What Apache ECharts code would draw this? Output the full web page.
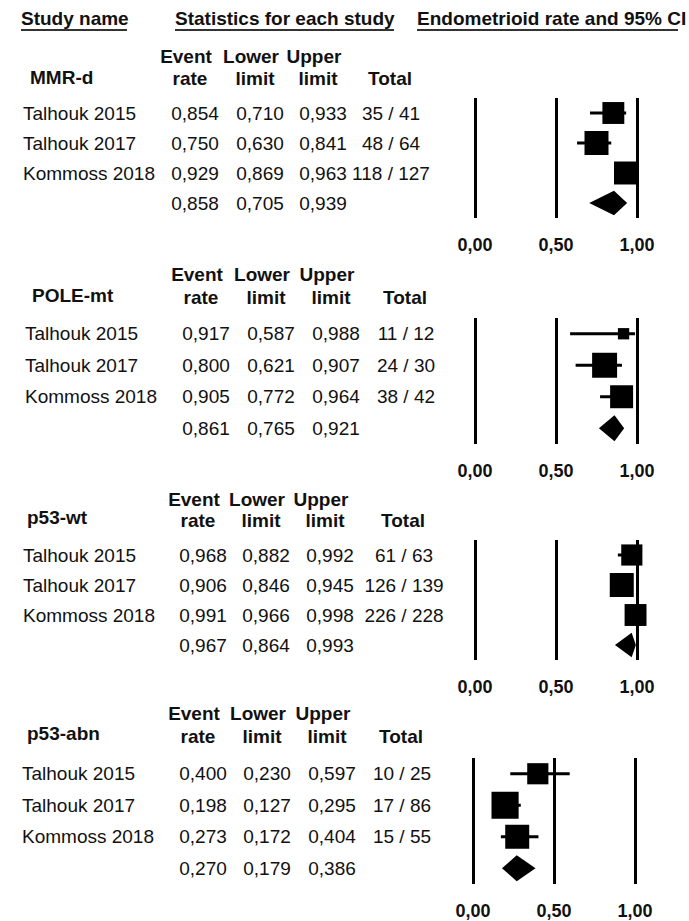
<!DOCTYPE html>
<html>
<head>
<meta charset="utf-8">
<script src="https://cdn.jsdelivr.net/npm/echarts@6/dist/echarts.min.js"></script>
<style>
html, body { margin: 0; padding: 0; background: #fff; }
#chart { width: 689px; height: 921px; }
</style>
</head>
<body>
<div id="chart"></div>
<script>
// data
var groups = ['MMR-d', 'POLE-mt', 'p53-wt', 'p53-abn']
var studies = ['Talhouk 2015', 'Talhouk 2017', 'Kommoss 2018', '']
// last entry of each row = pooled estimate
var eventRate = [
  [0.854, 0.750, 0.929, 0.858],
  [0.917, 0.800, 0.905, 0.861],
  [0.968, 0.906, 0.991, 0.967],
  [0.400, 0.198, 0.273, 0.270]
]
var lowerLimit = [
  [0.710, 0.630, 0.869, 0.705],
  [0.587, 0.621, 0.772, 0.765],
  [0.882, 0.846, 0.966, 0.864],
  [0.230, 0.127, 0.172, 0.179]
]
var upperLimit = [
  [0.933, 0.841, 0.963, 0.939],
  [0.988, 0.907, 0.964, 0.921],
  [0.992, 0.945, 0.998, 0.993],
  [0.597, 0.295, 0.404, 0.386]
]
var events = [[35, 48, 118], [11, 24, 38], [61, 126, 226], [10, 17, 15]]
var totals = [[41, 64, 127], [12, 30, 42], [63, 139, 228], [25, 86, 55]]
// relative study weights (box area)
var weights = [[30, 36, 33], [8, 39, 33], [28, 36, 30], [28, 46, 36]]

var FONT = '"Liberation Sans", Arial, sans-serif'
var INK = '#111'

// page layout of each panel (pixels)
var layout = [
  { top: 98, height: 120, left: 475, nameX: 30, label: 77, hdr: [56, 78], cols: [23, 195, 260, 323, 391] },
  { top: 318, height: 126, left: 475, nameX: 32, label: 295, hdr: [274, 297], cols: [25, 206, 271, 336, 406] },
  { top: 540, height: 120, left: 475, nameX: 27, label: 517, hdr: [499, 520], cols: [23, 203, 266, 330, 404] },
  { top: 758, height: 126, left: 473, nameX: 27, label: 733, hdr: [713, 736], cols: [22, 203, 267, 332, 402] }
]

function fmt(v, d) {
  return v.toFixed(d).replace('.', ',')
}

function txt(x, y, s, bold, align) {
  return {
    type: 'text', x: x, y: y, silent: true,
    style: {
      text: s, fill: INK, font: (bold ? 'bold ' : '') + '19px ' + FONT,
      align: align || 'center', verticalAlign: 'middle',
      textAlign: align || 'center', textVerticalAlign: 'middle'
    }
  }
}

function uline(x1, x2, y) {
  return { type: 'line', silent: true, shape: { x1: x1, y1: y, x2: x2, y2: y }, style: { stroke: '#333', lineWidth: 2 } }
}

function renderStudy(params, api) {
  var c = api.coord([api.value(1), api.value(0)])
  var l = api.coord([api.value(2), api.value(0)])
  var h = api.coord([api.value(3), api.value(0)])
  var s = Math.sqrt(api.value(4)) * 4
  return {
    type: 'group',
    children: [
      { type: 'line', shape: { x1: l[0], y1: c[1], x2: h[0], y2: c[1] }, style: { stroke: '#000', lineWidth: 3 } },
      { type: 'rect', shape: { x: c[0] - s / 2, y: c[1] - s / 2, width: s, height: s }, style: { fill: '#000' } }
    ]
  }
}

function renderDiamond(params, api) {
  var c = api.coord([api.value(1), api.value(0)])
  var l = api.coord([api.value(2), api.value(0)])
  var h = api.coord([api.value(3), api.value(0)])
  var half = api.size([0, 1])[1] * 0.41
  return {
    type: 'polygon',
    shape: { points: [[l[0], c[1]], [c[0], c[1] - half], [h[0], c[1]], [c[0], c[1] + half]] },
    style: { fill: '#000' }
  }
}

var grid = []
var xAxis = []
var yAxis = []
var series = []
var graphic = [
  txt(21, 18, 'Study name', true, 'left'), uline(21, 127, 30),
  txt(175, 18, 'Statistics for each study', true, 'left'), uline(175, 394, 30),
  txt(417, 18, 'Endometrioid rate and 95% CI', true, 'left'), uline(417, 678, 30)
]

groups.forEach(function(g, p) {
  var L = layout[p]
  grid.push({ left: L.left, top: L.top, width: 162, height: L.height, outerBoundsMode: 'none' })
  xAxis.push({
    gridIndex: p, type: 'value', min: 0, max: 1, interval: 0.5,
    axisLine: { show: false }, axisTick: { show: false },
    splitLine: { show: true, lineStyle: { color: '#000', width: 3 } },
    axisLabel: {
      margin: 18, fontSize: 18, fontWeight: 'bold', color: INK, fontFamily: FONT,
      formatter: function(v) { return fmt(v, 2) }
    }
  })
  var mainY = yAxis.length
  yAxis.push({ gridIndex: p, type: 'category', inverse: true, show: false, data: studies })

  // table columns as label-only axes
  var columns = [
    studies,
    eventRate[p].map(function(v) { return fmt(v, 3) }),
    lowerLimit[p].map(function(v) { return fmt(v, 3) }),
    upperLimit[p].map(function(v) { return fmt(v, 3) }),
    events[p].map(function(e, i) { return e + ' / ' + totals[p][i] }).concat([''])
  ]
  columns.forEach(function(col, c) {
    yAxis.push({
      gridIndex: p, type: 'category', inverse: true, position: 'left',
      offset: L.left - L.cols[c], data: col,
      axisLine: { show: false }, axisTick: { show: false }, splitLine: { show: false },
      axisLabel: {
        interval: 0, margin: 0, align: c === 0 ? 'left' : 'center',
        fontSize: 19, color: INK, fontFamily: FONT
      }
    })
  })

  var rows = []
  for (var i = 0; i < 3; i++) {
    rows.push([i, eventRate[p][i], lowerLimit[p][i], upperLimit[p][i], weights[p][i]])
  }
  series.push({
    type: 'custom', xAxisIndex: p, yAxisIndex: mainY, renderItem: renderStudy,
    encode: { x: [1, 2, 3], y: 0 }, data: rows, silent: true
  })
  series.push({
    type: 'custom', xAxisIndex: p, yAxisIndex: mainY, renderItem: renderDiamond,
    encode: { x: [1, 2, 3], y: 0 }, data: [[3, eventRate[p][3], lowerLimit[p][3], upperLimit[p][3]]], silent: true
  })

  // panel headers
  graphic.push(txt(L.nameX, L.label, g, true, 'left'))
  graphic.push(txt(L.cols[1] - 9, L.hdr[0], 'Event', true))
  graphic.push(txt(L.cols[2] - 9, L.hdr[0], 'Lower', true))
  graphic.push(txt(L.cols[3] - 9, L.hdr[0], 'Upper', true))
  graphic.push(txt(L.cols[1] - 5, L.hdr[1], 'rate', true))
  graphic.push(txt(L.cols[2] - 5, L.hdr[1], 'limit', true))
  graphic.push(txt(L.cols[3] - 5, L.hdr[1], 'limit', true))
  graphic.push(txt(L.cols[4] - 1, L.hdr[1], 'Total', true))
})

var myChart = echarts.init(document.getElementById('chart'), null, { renderer: 'svg' })
myChart.setOption({
  animation: false,
  backgroundColor: '#fff',
  grid: grid,
  xAxis: xAxis,
  yAxis: yAxis,
  series: series,
  graphic: graphic
})
</script>
</body>
</html>
